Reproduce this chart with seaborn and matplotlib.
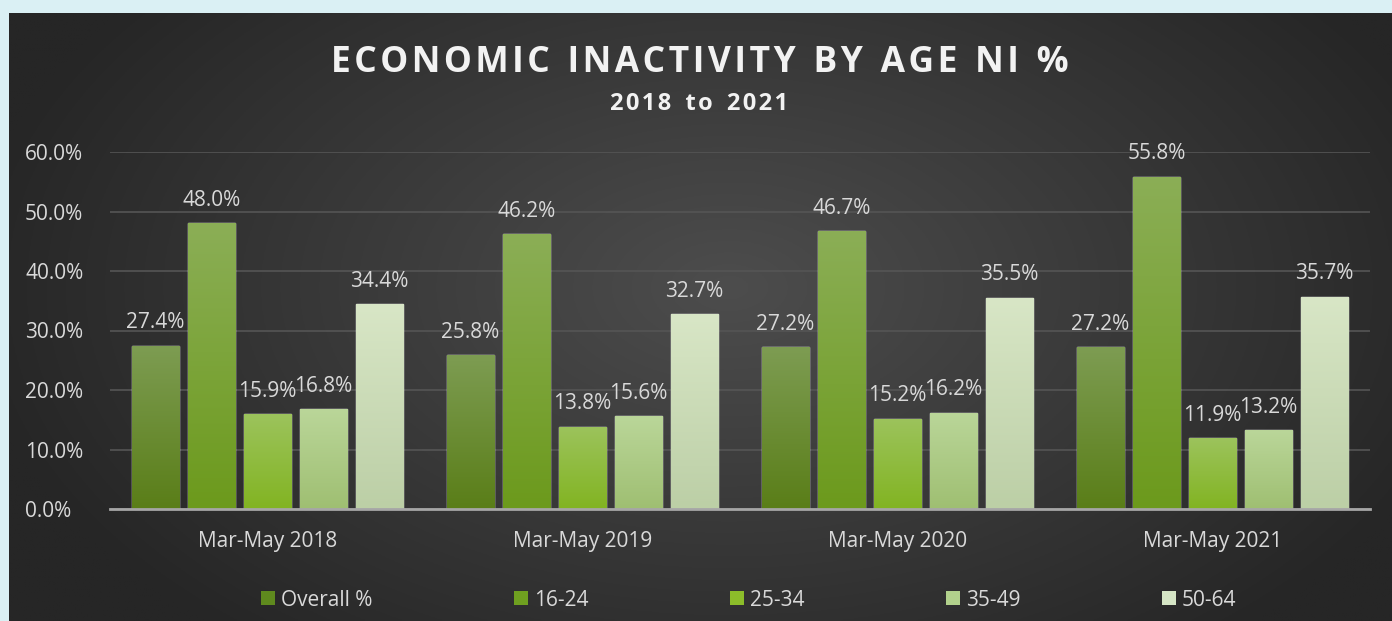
import numpy as np
import pandas as pd
import matplotlib
matplotlib.use("Agg")
import matplotlib.pyplot as plt
import seaborn as sns
from matplotlib.colors import LinearSegmentedColormap, to_rgb
from matplotlib.patches import Rectangle

periods = ["Mar-May 2018", "Mar-May 2019", "Mar-May 2020", "Mar-May 2021"]
groups = ["Overall %", "16-24", "25-34", "35-49", "50-64"]
overall = [27.4, 25.8, 27.2, 27.2]
age_16_24 = [48.0, 46.2, 46.7, 55.8]
age_25_34 = [15.9, 13.8, 15.2, 11.9]
age_35_49 = [16.8, 15.6, 16.2, 13.2]
age_50_64 = [34.4, 32.7, 35.5, 35.7]
yticks = [0, 10, 20, 30, 40, 50, 60]

series = [overall, age_16_24, age_25_34, age_35_49, age_50_64]
rows = []
for g, vals in zip(groups, series):
    for p, v in zip(periods, vals):
        rows.append({"period": p, "group": g, "value": v})
df = pd.DataFrame(rows)

legend_cols = ["#5f8a1e", "#6fa020", "#8cbd2a", "#b2d18c", "#d5e5c5"]
grad_top = ["#7d9c52", "#8bae56", "#9cc35c", "#bad699", "#d8e6c6"]
grad_bot = ["#5a7e18", "#6c9a1c", "#82b422", "#9fbf72", "#bccfa6"]

sns.set_theme(style="dark")
plt.rcParams['font.family'] = ['Open Sans', 'DejaVu Sans']

FS = 15
W, H = 1392, 621
fig = plt.figure(figsize=(W / 100, H / 100), dpi=100)
fig.patch.set_facecolor("#daf0f4")

# dark panel with radial gradient
px0 = 9 / W
ptop = 1 - 13 / H
bg = fig.add_axes([px0, 0, 1 - px0, ptop])
bg.set_axis_off()
ny, nx = 300, 700
yy, xx = np.mgrid[0:ny, 0:nx]
cx, cy = nx * 0.52, ny * 0.45
r = np.sqrt(((xx - cx) / (nx * 0.55)) ** 2 + ((yy - cy) / (ny * 0.75)) ** 2)
r = np.clip(r, 0, 1)
c_in = np.array(to_rgb("#4d4d4d"))
c_out = np.array(to_rgb("#262626"))
img = c_in[None, None, :] * (1 - r[..., None]) + c_out[None, None, :] * r[..., None]
bg.imshow(img, aspect="auto", extent=[0, 1, 0, 1], origin="upper")
bg.set_xlim(0, 1)
bg.set_ylim(0, 1)

ax = fig.add_axes([110 / W, 1 - 509 / H, (1370 - 110) / W, (509 - 152) / H])
ax.set_facecolor("none")

sns.barplot(data=df, x="period", y="value", hue="group", order=periods,
            hue_order=groups, palette=legend_cols, width=0.89, gap=0.16,
            ax=ax, legend=False, saturation=1)

ax.set_ylim(0, 60)
ax.set_xlim(-0.5, 3.5)
ax.set_yticks(yticks)
ax.set_yticklabels([f"{t:.1f}%" for t in yticks], color="#d9d9d9", fontsize=FS)
ax.tick_params(axis="x", colors="#d9d9d9", labelsize=FS, pad=16, length=0)
ax.tick_params(axis="y", length=0)
for lbl in ax.get_yticklabels():
    lbl.set_horizontalalignment("left")
ax.yaxis.set_tick_params(pad=85 * 0.72)
ax.set_xlabel("")
ax.set_ylabel("")
ax.grid(axis="y", color="#555555", linewidth=1.2)
ax.grid(axis="x", visible=False)
for s in ["top", "right", "left"]:
    ax.spines[s].set_visible(False)
ax.spines["bottom"].set_color("#a6a6a6")
ax.spines["bottom"].set_linewidth(2)
ax.spines["bottom"].set_zorder(5)

# gradient fills on bars
for gi, cont in enumerate(ax.containers):
    cmap = LinearSegmentedColormap.from_list("g%d" % gi, [grad_bot[gi], grad_top[gi]])
    for patch in cont.patches:
        x0, y0 = patch.get_x(), patch.get_y()
        w, h = patch.get_width(), patch.get_height()
        grad = np.linspace(0, 1, 100).reshape(-1, 1)
        im = ax.imshow(grad, cmap=cmap, origin="lower", aspect="auto",
                       extent=[x0, x0 + w, y0, y0 + h], zorder=patch.get_zorder() + 0.1)
        im.set_clip_path(patch)
    ax.bar_label(cont, labels=[f"{v:.1f}%" for v in cont.datavalues],
                 padding=9, color="#d9d9d9", fontsize=FS)
ax.set_xlim(-0.5, 3.5)
ax.set_ylim(0, 60)

def spaced(s):
    return "\u200a".join(list(s)).replace("\u200a \u200a", "\u2002")

# title
fig.text(0.5025, 1 - 63 / H, spaced("ECONOMIC INACTIVITY BY AGE NI %"),
         ha="center", va="center", color="#f2f2f2", fontsize=25.5, fontweight="bold")
fig.text(0.5025, 1 - 104 / H, spaced("2018 to 2021").replace("\u2002", "\u2002\u200a"),
         ha="center", va="center", color="#f2f2f2", fontsize=17, fontweight="bold")

# legend
handles = [Rectangle((0, 0), 1, 1, facecolor=c, edgecolor="none") for c in legend_cols]
leg = fig.legend(handles, groups, loc="center", bbox_to_anchor=(0.538, 1 - 600 / H),
                 ncol=5, frameon=False, fontsize=FS, handlelength=0.65,
                 handleheight=0.65, handletextpad=0.3, columnspacing=6.8)
for t in leg.get_texts():
    t.set_color("#d9d9d9")

fig.savefig("out.png", dpi=100, facecolor=fig.get_facecolor())
